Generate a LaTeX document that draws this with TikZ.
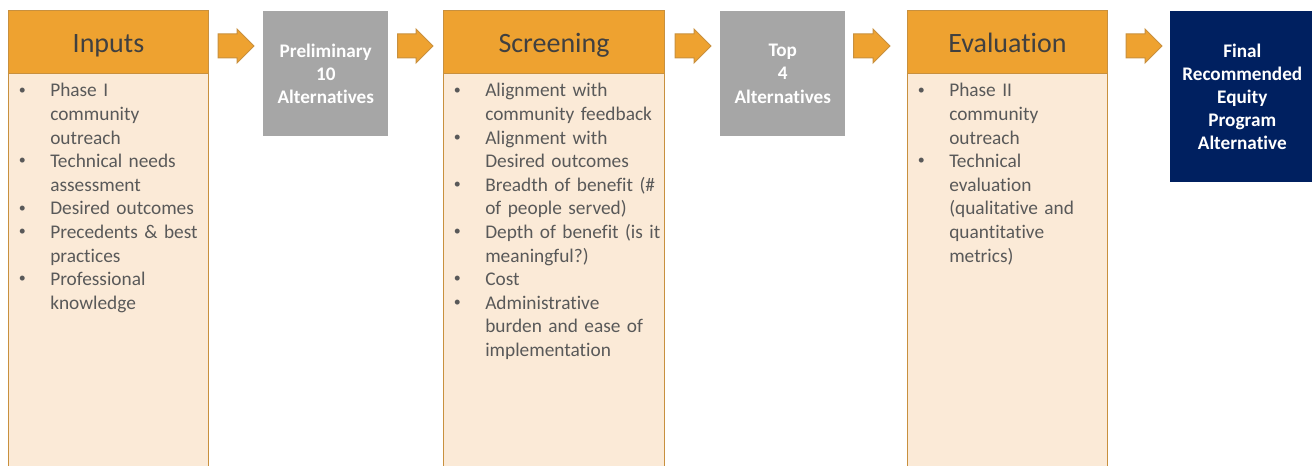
\documentclass[tikz,border=0pt]{standalone}
\usepackage{fontspec}
\setmainfont{Carlito}[Ligatures=NoCommon]
\usetikzlibrary{calc,positioning}

\definecolor{hdorange}{RGB}{238,162,48}
\definecolor{bdorange}{RGB}{200,144,62}
\definecolor{bodypeach}{RGB}{251,234,215}
\definecolor{altgrey}{RGB}{166,166,166}
\definecolor{finalnavy}{RGB}{0,32,96}
\definecolor{headtxt}{RGB}{64,64,64}
\definecolor{bodytxt}{RGB}{89,89,89}

% one bullet item, lines after the first hang under the text
\newcommand{\itm}[1]{\par\parskip=0pt\relax\noindent\hangindent=24.75pt\relax
  \hangafter=1\relax\strut\makebox[24.75pt][l]{\hspace{1.2pt}%
  {\fontsize{10.5}{10}\selectfont\raisebox{2pt}{\textbullet}}}#1}
% block arrow between two boxes: from, to, left gap, right gap
\newcommand{\blkarr}[4]{%
  \draw[blkarrow] let \p1=(#1.east), \p2=(#2.west), \p3=(arrowrow) in
    (\x1+#3,\y3+9pt) -- (\x2-#4-12.75pt,\y3+9pt) -- (\x2-#4-12.75pt,\y3+12.75pt)
    -- (\x2-#4,\y3) -- (\x2-#4-12.75pt,\y3-12.75pt) -- (\x2-#4-12.75pt,\y3-9pt)
    -- (\x1+#3,\y3-9pt) -- cycle;}

\begin{document}
\begin{tikzpicture}[x=0.75pt, y=-0.75pt,
  headbox/.style={draw=bdorange, line width=0.75pt, fill=hdorange, text=headtxt,
    font=\fontsize{21}{25}\selectfont, anchor=north west, inner sep=0pt,
    minimum height=47.25pt, text height=16.2pt, text depth=0pt},
  bodybox/.style={draw=bdorange, line width=0.75pt, fill=bodypeach,
    anchor=north west, inner sep=0pt, minimum height=300pt},
  bodytext/.style={anchor=north west, inner sep=0pt, text=bodytxt, text width=#1,
    font=\fontsize{14.5}{17.7}\selectfont},
  altbox/.style={fill=altgrey, text=white, align=center, anchor=north west,
    font=\bfseries\fontsize{14.4}{17.4}\selectfont, inner sep=0pt,
    minimum width=93.75pt, minimum height=93.75pt},
  blkarrow/.style={draw=bdorange, line width=0.75pt, fill=hdorange, line join=miter}
]
  \useasboundingbox (0,0) rectangle (1312,466);
  \clip (0,0) rectangle (1312,466);
  \coordinate (arrowrow) at (0,46);

  % Inputs
  \node[bodybox, minimum width=150pt] (inbody) at (8,73) {};
  \node[headbox, minimum width=150pt] (inhead) at (8,10) {Inputs};
  \node[bodytext=140pt] (intext) at ($(inbody.north west)+(9,0)$) {\raggedright
    \itm{Phase I\newline community\newline outreach}
    \itm{Technical needs\newline assessment}
    \itm{Desired outcomes}
    \itm{Precedents \& best\newline practices}
    \itm{Professional\newline knowledge}\par};

  \node[altbox] (prelim) at (263,11) {Preliminary\\10\\Alternatives};

  % Screening
  \node[bodybox, minimum width=165.75pt] (scbody) at (443,73) {};
  \node[headbox, minimum width=165.75pt] (schead) at (443,10) {Screening};
  \node[bodytext=158pt] (sctext) at ($(scbody.north west)+(9,0)$) {\raggedright
    \itm{Alignment with\newline community feedback}
    \itm{Alignment with\newline Desired outcomes}
    \itm{Breadth of benefit (\#\newline of people served)}
    \itm{Depth of benefit (is it\newline meaningful?)}
    \itm{Cost}
    \itm{Administrative\newline burden and ease of\newline implementation}\par};

  \node[altbox] (top) at (720,11) {Top\\4\\Alternatives};

  % Evaluation
  \node[bodybox, minimum width=150pt] (evbody) at (907,73) {};
  \node[headbox, minimum width=150pt] (evhead) at (907,10) {Evaluation};
  \node[bodytext=140pt] (evtext) at ($(evbody.north west)+(9,0)$) {\raggedright
    \itm{Phase II\newline community\newline outreach}
    \itm{Technical\newline evaluation\newline (qualitative and\newline quantitative\newline metrics)}\par};

  \node[altbox, fill=finalnavy, minimum width=108pt, minimum height=128.25pt]
    (final) at (1170,11) {Final\\Recommended\\Equity\\Program\\Alternative};

  % arrows
  \blkarr{inhead}{prelim}{6.75pt}{6.75pt}
  \blkarr{prelim}{schead}{6.75pt}{7.5pt}
  \blkarr{schead}{top}{7.5pt}{6.75pt}
  \blkarr{top}{evhead}{6pt}{12.75pt}
  \blkarr{evhead}{final}{13.5pt}{6pt}
\end{tikzpicture}
\end{document}
